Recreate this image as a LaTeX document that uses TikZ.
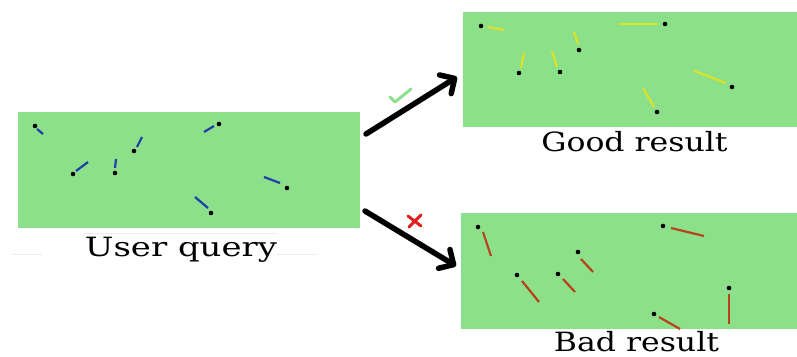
\documentclass[tikz,border=0pt]{standalone}
\usepackage{fontspec}
\setmainfont{DejaVu Serif}
\usetikzlibrary{arrows.meta}
\definecolor{boxgreen}{HTML}{8CE08A}
\definecolor{qblue}{HTML}{1F3FA8}
\definecolor{gyellow}{HTML}{DCE22A}
\definecolor{bred}{HTML}{B8421C}
\definecolor{okgreen}{HTML}{8FE08F}
\definecolor{nored}{HTML}{E02020}
\begin{document}
\begin{tikzpicture}[x=1pt,y=-1pt,
  panel/.style={fill=boxgreen, draw=none, anchor=north west, inner sep=0pt},
  caption/.style={anchor=base, inner sep=0pt, font=\fontsize{26.5}{30}\selectfont},
  qseg/.style={draw=qblue, line width=2.2pt},
  gseg/.style={draw=gyellow, line width=2.2pt},
  bseg/.style={draw=bred, line width=2.2pt},
  bigarrow/.style={draw=black, line width=5.5pt, line cap=round,
    -{Straight Barb[length=11pt, width=22pt, line width=5.5pt, round]}},
  faint/.style={draw=black!8, line width=0.8pt}]
\useasboundingbox (0,0) rectangle (797,356);

% panels
\node[panel, minimum width=342pt, minimum height=116pt] (query) at (18,112) {};
\node[panel, minimum width=334pt, minimum height=115pt] (good) at (463,12) {};
\node[panel, minimum width=336pt, minimum height=116pt] (bad) at (461,213) {};

% faint artefact lines near the query caption
\draw[faint] (83,233) -- (277,233);
\draw[faint] (12,254) -- (42,254);
\draw[faint] (277,254) -- (317,254);

% captions
\node[caption] (qlabel) at (181,256) {\scalebox{1.28}[1]{User query}};
\node[caption] (glabel) at (634.5,151) {\scalebox{1.19}[1]{Good result}};
\node[caption] (blabel) at (636.5,351) {\scalebox{1.19}[1]{Bad result}};

% query points
\foreach \x/\y in {35/126, 219/124, 134/151, 73/174, 115/173, 287/188, 211/213}
  \fill (\x,\y) circle (2.3pt);
\draw[qseg] (37,129) -- (43,134);
\draw[qseg] (214,126) -- (204,132);
\draw[qseg] (137,147) -- (142,137);
\draw[qseg] (76,171) -- (88,162);
\draw[qseg] (115,168) -- (116,159);
\draw[qseg] (280,183) -- (264,177);
\draw[qseg] (208,208) -- (195,197);

% good result points
\foreach \x/\y in {481/26, 665/24, 579/50, 519/73, 560/72, 732/87, 657/112}
  \fill (\x,\y) circle (2.3pt);
\draw[gseg] (488,27) -- (504,30);
\draw[gseg] (658,24) -- (618,24);
\draw[gseg] (578,44) -- (574,32);
\draw[gseg] (521,68) -- (524,53);
\draw[gseg] (557,67) -- (552,51);
\draw[gseg] (726,83) -- (694,71);
\draw[gseg] (654,107) -- (643,88);

% bad result points
\foreach \x/\y in {478/227, 663/226, 578/252, 517/275, 558/274, 729/288, 654/314}
  \fill (\x,\y) circle (2.3pt);
\draw[bseg] (483,232) -- (491,256);
\draw[bseg] (671,228) -- (704,236);
\draw[bseg] (581,259) -- (593,272);
\draw[bseg] (522,281) -- (539,302);
\draw[bseg] (563,279) -- (575,292);
\draw[bseg] (729,294) -- (729,324);
\draw[bseg] (659,317) -- (680,329);

% arrows
\coordinate (upstart) at (366,134);
\coordinate (upend) at (457,77);
\coordinate (downstart) at (365,211);
\coordinate (downend) at (456,266);
\draw[bigarrow] (upstart) -- (upend);
\draw[bigarrow] (downstart) -- (downend);

% check mark and cross
\draw[okgreen, line width=3pt, line cap=round, line join=round]
  (390,97) -- (395,102) -- (411,89);
\draw[nored, line width=3pt, line cap=round]
  (408,216) -- (421,226) (421,215) -- (409,227);
\end{tikzpicture}
\end{document}
